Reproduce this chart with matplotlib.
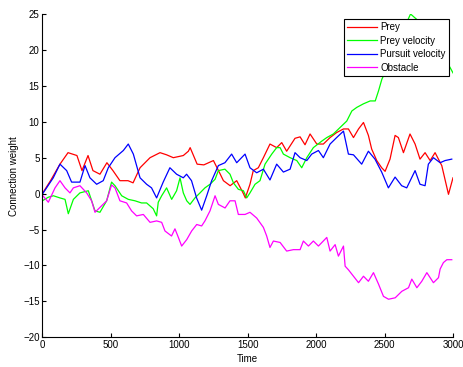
import matplotlib
matplotlib.use("Agg")
import matplotlib.pyplot as plt

plt.rcParams['font.family'] = ['Liberation Sans', 'DejaVu Sans']

# Prey
prey_t = [0, 60, 129, 188, 253, 290, 334, 370, 421, 472, 516, 567, 626, 663, 714, 787, 860, 908, 957,
          1030, 1067, 1080, 1131, 1180, 1250, 1300, 1323, 1372, 1420, 1469, 1483, 1517, 1541, 1578, 1615,
          1663, 1712, 1749, 1785, 1846, 1883, 1919, 1956, 2005, 2053, 2102, 2150, 2200, 2236, 2273, 2310,
          2346, 2382, 2406, 2443, 2479, 2504, 2540, 2577, 2601, 2638, 2686, 2723, 2759, 2796, 2833, 2869,
          2918, 2967, 3000]
prey_v = [0, 1.8, 4.1, 5.7, 5.3, 3.2, 5.3, 3.2, 2.7, 4.3, 3.2, 1.8, 1.8, 1.5, 3.6, 5.0, 5.7, 5.4, 5.0,
          5.3, 5.9, 6.4, 4.1, 4.0, 4.6, 2.7, 1.8, 1.1, 1.8, 0.0, -0.6, 1.3, 3.2, 3.6, 5.0,
          6.9, 6.4, 7.1, 5.9, 7.7, 7.9, 6.8, 8.3, 6.9, 6.9, 7.8, 8.5, 9.0, 9.0, 7.8, 9.0,
          9.9, 8.1, 6.2, 4.6, 3.6, 3.1, 4.8, 8.1, 7.8, 5.7, 8.3, 6.9, 4.8, 5.7, 4.6, 5.7,
          3.9, -0.1, 2.2]

# Prey velocity
pv_t = [0, 44, 81, 129, 166, 190, 227, 275, 336, 385, 421, 470, 506, 531, 580, 628, 677, 725, 762, 810,
        835, 847, 872, 908, 945, 981, 1006, 1030, 1055, 1079, 1115, 1152, 1188, 1225, 1262, 1286, 1334,
        1371, 1396, 1432, 1469, 1493, 1517, 1554, 1590, 1627, 1676, 1712, 1737, 1761, 1810, 1859, 1895,
        1932, 1980, 2041, 2078, 2126, 2175, 2224, 2261, 2297, 2346, 2395, 2432, 2456, 2480, 2530, 2580,
        2630, 2690, 2750, 2800, 2850, 2900, 2950, 2980, 3000]
pv_v = [-1.0, -0.5, -0.3, -0.6, -0.8, -2.8, -0.8, 0.1, 0.4, -2.4, -2.6, -1.0, 1.6, 1.1, -0.3, -0.8, -1.0,
        -1.3, -1.3, -2.1, -3.1, -1.2, -0.3, 0.8, -0.8, 0.4, 2.2, 0.1, -1.0, -1.5, -0.6, 0.1, 0.8, 1.3,
        2.0, 3.2, 3.4, 2.7, 1.5, 0.6, 0.4, -0.6, 0.1, 1.3, 1.8, 4.1, 5.5, 6.4, 6.4, 5.5, 5.0, 4.6, 3.6,
        5.0, 6.4, 7.3, 7.8, 8.3, 9.2, 10.1, 11.5, 12.0, 12.5, 12.9, 12.9, 14.3, 15.9, 18.0, 20.0,
        22.5, 25.0, 24.0, 23.0, 22.0, 20.5, 18.5, 17.5, 16.8]

# Pursuit velocity
pu_t = [0, 80, 129, 178, 214, 275, 312, 348, 397, 445, 482, 531, 592, 628, 665, 714, 762, 798, 835, 883,
        932, 981, 1030, 1054, 1090, 1127, 1164, 1201, 1237, 1286, 1334, 1383, 1420, 1481, 1517, 1566,
        1615, 1663, 1712, 1761, 1810, 1846, 1883, 1932, 1968, 2017, 2053, 2102, 2150, 2200, 2236, 2273,
        2333, 2382, 2430, 2479, 2528, 2577, 2625, 2662, 2723, 2759, 2796, 2820, 2857, 2906, 2942, 2991]
pu_v = [-0.1, 2.2, 4.1, 3.2, 1.6, 1.6, 3.9, 2.2, 1.3, 1.8, 3.6, 5.0, 6.0, 6.9, 5.5, 2.2, 1.3, 0.8, -0.6,
        1.6, 3.6, 2.7, 2.2, 2.7, 1.8, -0.6, -2.3, -0.3, 1.8, 3.9, 4.3, 5.5, 4.3, 5.5, 3.6, 2.9, 3.4, 1.9,
        4.1, 3.0, 3.4, 5.7, 5.0, 4.6, 5.5, 6.0, 5.0, 6.9, 7.8, 8.7, 5.5, 5.4, 4.1, 5.9, 4.8, 3.0, 0.8,
        2.3, 1.1, 0.8, 3.2, 1.3, 1.1, 4.1, 5.0, 4.3, 4.6, 4.8]

# Obstacle
ob_t = [0, 44, 93, 129, 166, 202, 227, 275, 324, 360, 385, 433, 470, 506, 531, 567, 616, 652, 689, 738,
        787, 835, 872, 896, 944, 969, 994, 1018, 1055, 1091, 1128, 1164, 1188, 1225, 1262, 1286, 1335,
        1371, 1408, 1432, 1481, 1517, 1566, 1615, 1639, 1663, 1688, 1737, 1785, 1834, 1883, 1907, 1944,
        1980, 2017, 2078, 2102, 2139, 2163, 2200, 2212, 2236, 2273, 2310, 2346, 2382, 2419, 2456, 2492,
        2529, 2578, 2626, 2675, 2699, 2736, 2772, 2809, 2833, 2857, 2894, 2906, 2930, 2955, 2991]
ob_v = [-0.2, -1.2, 0.8, 1.8, 0.8, 0.1, 0.8, 1.1, 0.1, -1.0, -2.6, -1.7, -1.0, 1.2, 0.8, -1.0, -1.3,
        -2.4, -3.1, -2.9, -4.0, -3.8, -4.0, -5.2, -5.9, -4.9, -6.1, -7.3, -6.4, -5.2, -4.3, -4.5, -3.8,
        -2.4, -0.3, -1.5, -2.0, -1.0, -1.0, -2.9, -2.9, -2.6, -3.4, -4.7, -5.9, -7.5, -6.6, -6.8, -8.0,
        -7.8, -7.8, -6.6, -7.3, -6.6, -7.3, -6.1, -8.0, -7.1, -8.7, -7.3, -10.1, -10.6, -11.5, -12.4,
        -11.5, -12.2, -11.0, -12.6, -14.3, -14.7, -14.5, -13.6, -13.1, -11.9, -13.1, -12.2, -11.0, -11.7,
        -12.4, -11.7, -10.5, -9.6, -9.2, -9.2]

labels = ['Prey', 'Prey velocity', 'Pursuit velocity', 'Obstacle']
colors = ['#ff0000', '#00ff00', '#0000ff', '#ff00ff']
x_ticks = [0, 500, 1000, 1500, 2000, 2500, 3000]
y_ticks = [-20, -15, -10, -5, 0, 5, 10, 15, 20, 25]

fig = plt.figure(figsize=(4.64, 3.67), dpi=100)
ax = fig.add_axes([42.3 / 464, 1 - 337.3 / 367, (453 - 42.3) / 464, (337.3 - 14) / 367])

series = [(prey_t, prey_v), (pv_t, pv_v), (pu_t, pu_v), (ob_t, ob_v)]
for (t, v), c, lab in zip(series, colors, labels):
    ax.plot(t, v, color=c, lw=0.9, label=lab)

ax.set_xlim(0, 3000)
ax.set_ylim(-20, 25)
ax.set_xticks(x_ticks)
ax.set_yticks(y_ticks)
ax.tick_params(direction='in', length=3, width=0.8, labelsize=7, pad=2)
for s in ['top', 'right']:
    ax.spines[s].set_visible(False)
for s in ['left', 'bottom']:
    ax.spines[s].set_linewidth(0.8)
ax.set_xlabel('Time', fontsize=7, labelpad=3)
ax.set_ylabel('Connection weight', fontsize=7, labelpad=3)

leg = ax.legend(loc='upper right', bbox_to_anchor=(449 / 464, 1 - 19 / 367),
                bbox_transform=fig.transFigure, borderaxespad=0, fontsize=7,
                fancybox=False, edgecolor='black', framealpha=1, handlelength=3.1,
                labelspacing=0.35, borderpad=0.35, handletextpad=0.3)
leg.get_frame().set_linewidth(0.8)

fig.savefig('out.png', dpi=100)
